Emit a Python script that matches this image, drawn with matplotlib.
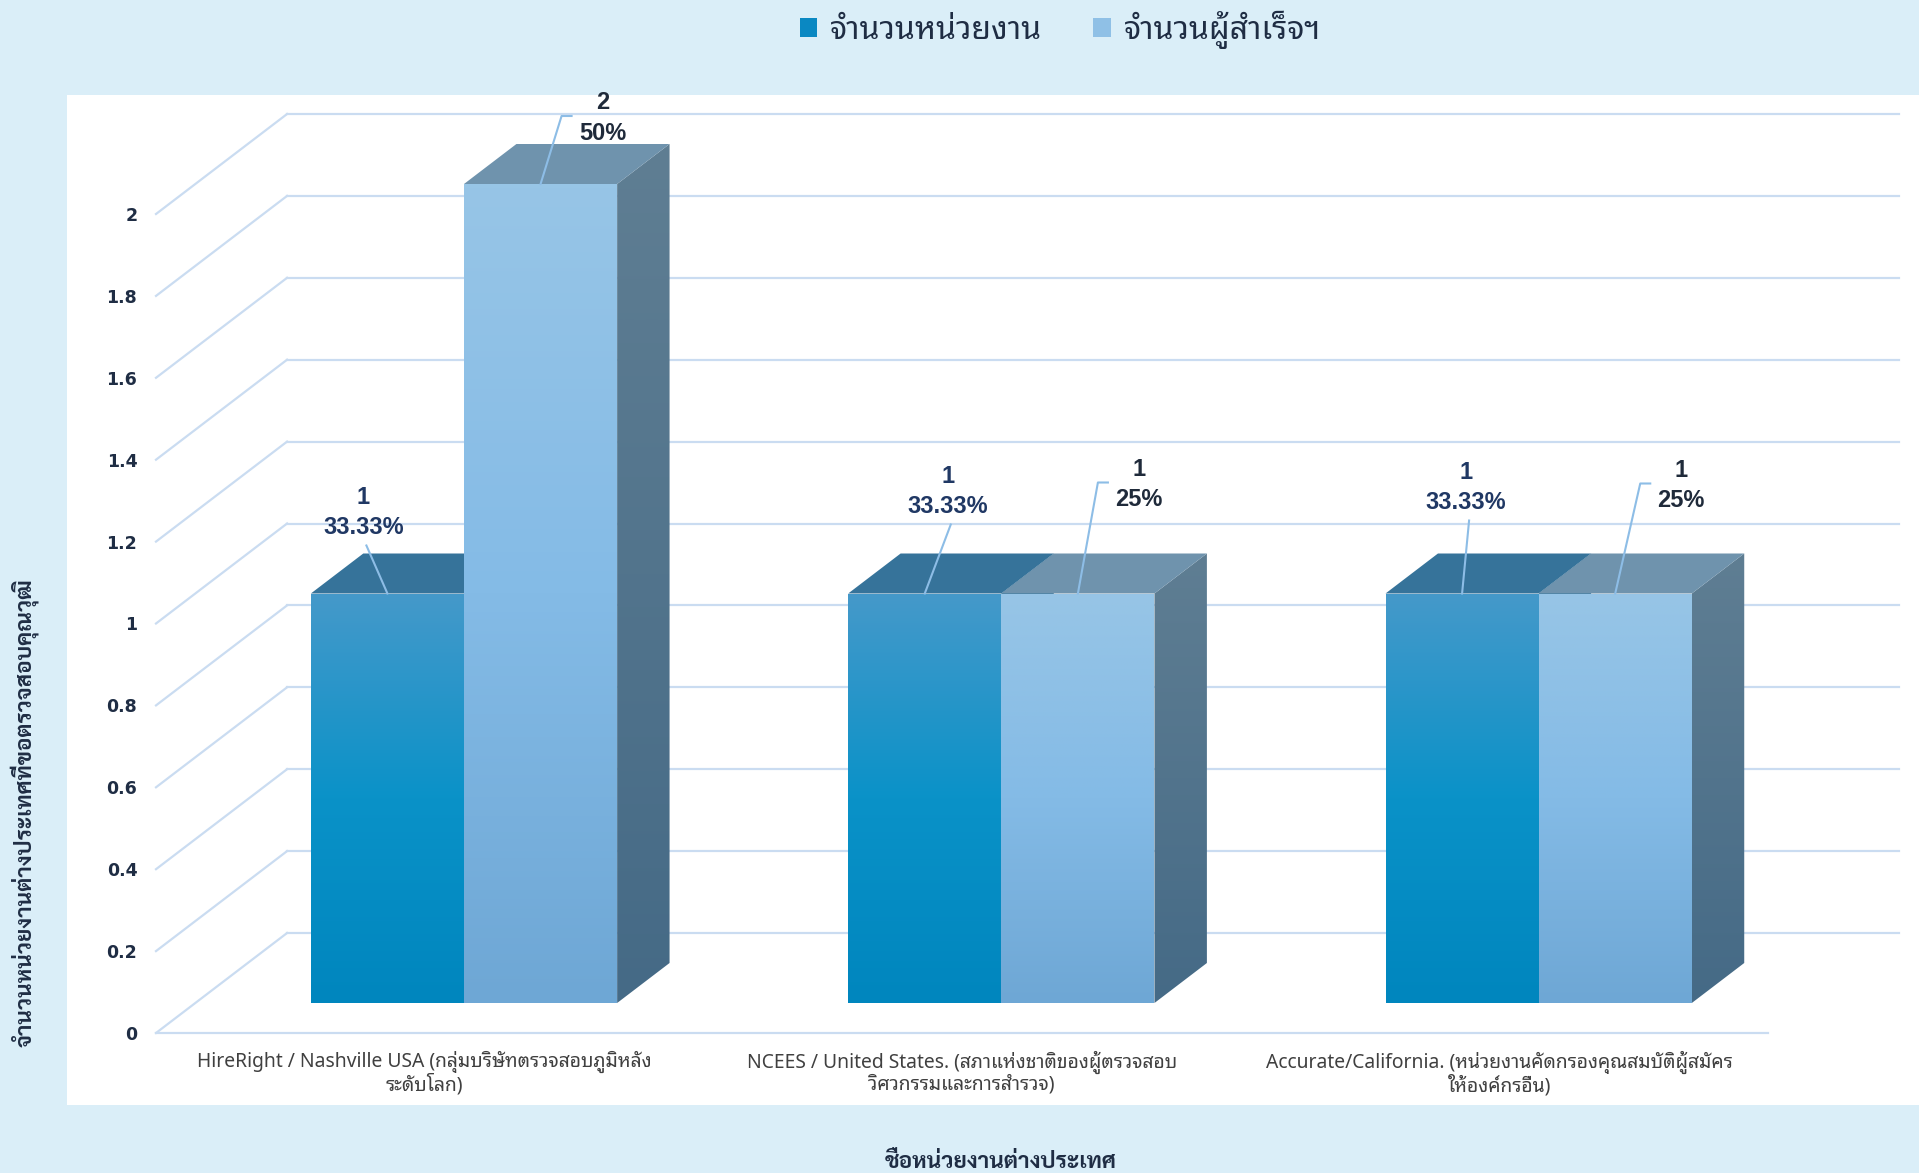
import numpy as np
import matplotlib
matplotlib.use('Agg')
import matplotlib.pyplot as plt
from matplotlib import font_manager as fm
from matplotlib.ft2font import FT2Font
from matplotlib.patches import Polygon, Patch, Rectangle
from matplotlib.colors import LinearSegmentedColormap

# data
categories = [
    'HireRight / Nashville USA (กลุ่มบริษัทตรวจสอบภูมิหลัง\nระดับโลก)',
    'NCEES / United States. (สภาแห่งชาติของผู้ตรวจสอบ\nวิศวกรรมและการสำรวจ)',
    'Accurate/California. (หน่วยงานคัดกรองคุณสมบัติผู้สมัคร\nให้องค์กรอื่น)',
]
series_names = ['จำนวนหน่วยงาน', 'จำนวนผู้สำเร็จฯ']
units = [1, 1, 1]
graduates = [2, 1, 1]
y_ticks = [0, 0.2, 0.4, 0.6, 0.8, 1, 1.2, 1.4, 1.6, 1.8, 2]
x_title = 'ชื่อหน่วยงานต่างประเทศ'
y_title = 'จำนวนหน่วยงานต่างประเทศที่ขอตรวจสอบคุณวุฒิ'

# pick fonts with thai glyphs
thai_fonts = set()
for f in fm.fontManager.ttflist:
    try:
        if 0x0E01 in FT2Font(f.fname).get_charmap():
            thai_fonts.add(f.name)
    except Exception:
        pass


def pick(names):
    ok = [n for n in names if n in thai_fonts]
    return (ok or sorted(thai_fonts) or ['DejaVu Sans'])[0]


thai = pick(['Noto Sans Thai Looped', 'Sarabun', 'Noto Sans Thai'])
thai_bold = pick(['Sarabun', 'Noto Sans Thai', 'Noto Sans Thai Looped'])
plt.rcParams['font.family'] = [thai, 'DejaVu Sans']

W, H = 1919, 1173
BG = '#daeef8'
GRID = '#cadcf1'
NAVY = '#1f2d44'

fig = plt.figure(figsize=(W / 100, H / 100), dpi=100, facecolor=BG)
fig.patches.append(Rectangle((67 / W, 1 - 1105 / H), (W - 67) / W, (1105 - 95) / H,
                             transform=fig.transFigure, facecolor='white',
                             edgecolor='none', zorder=-5))

# front plane of the box: x 0..3 categories, y 0..2
ax = fig.add_axes([156 / W, 1 - 1033 / H, 1612 / W, 819 / H])
ax.set_facecolor('none')
for s in ax.spines.values():
    s.set_visible(False)

PX = 1 / 537.0     # one pixel in x units
PY = 1 / 409.5     # one pixel in y units
DX, DY = 131 * PX, 100 * PY   # full depth offset
D0, D1 = 0.3, 0.7             # bar depth range
BW = 0.285                    # bar width

# walls
for v in y_ticks:
    ax.plot([0, DX], [v, v + DY], color=GRID, lw=1.6, clip_on=False, zorder=1)
    ax.plot([DX, 3 + DX], [v + DY, v + DY], color=GRID, lw=1.6, clip_on=False, zorder=1)
ax.plot([0, 3], [0, 0], color=GRID, lw=1.6, clip_on=False, zorder=1)


def face(verts, stops, z):
    poly = Polygon(verts, closed=True, facecolor='none', edgecolor='none')
    ax.add_patch(poly)
    xs = [p[0] for p in verts]
    ys = [p[1] for p in verts]
    cmap = LinearSegmentedColormap.from_list('g', stops)
    grad = np.linspace(0, 1, 256).reshape(-1, 1)
    im = ax.imshow(grad, extent=[min(xs), max(xs), min(ys), max(ys)], origin='lower',
                   cmap=cmap, aspect='auto', interpolation='bilinear', zorder=z)
    im.set_clip_path(poly)
    im.set_clip_box(fig.bbox)


front_cols = [['#0086be', '#0a92c8', '#4599ca'], ['#6ea7d5', '#84bbe6', '#97c5e6']]
top_cols = ['#36739a', '#6f93ad']
side_cols = [['#2a5f80', '#3a7aa0'], ['#456a86', '#5f7e93']]
label_cols = ['#203864', '#1f2a3a']

# label offsets (pixels from the bar's top front centre)
label_off = [[(-24, 81), (23, 102), (4, 106)],
             [(62, 66), (61, 109), (66, 108)]]

for si, vals in enumerate([units, graduates]):
    total = sum(vals)
    for ci, h in enumerate(vals):
        x0 = ci + 0.5 - BW + si * BW
        x1 = x0 + BW
        a0x, a0y = D0 * DX, D0 * DY
        a1x, a1y = D1 * DX, D1 * DY
        z = 3 + ci * 2 + si
        face([(x1 + a0x, a0y), (x1 + a1x, a1y), (x1 + a1x, h + a1y), (x1 + a0x, h + a0y)],
             side_cols[si], z)
        top = Polygon([(x0 + a0x, h + a0y), (x1 + a0x, h + a0y), (x1 + a1x, h + a1y),
                       (x0 + a1x, h + a1y)], closed=True, facecolor=top_cols[si],
                      edgecolor='none', clip_on=False, zorder=z)
        ax.add_patch(top)
        face([(x0 + a0x, a0y), (x1 + a0x, a0y), (x1 + a0x, h + a0y), (x0 + a0x, h + a0y)],
             front_cols[si], z)

        # data label
        pct = '{:.2f}'.format(h / total * 100).rstrip('0').rstrip('.') + '%'
        bx, by = (x0 + x1) / 2 + a0x, h + a0y
        ox, oy = label_off[si][ci]
        lx, ly = bx + ox * PX, by + oy * PY
        ax.text(lx, ly, '{}\n{}'.format(h, pct), ha='center', va='center',
                fontsize=17, fontweight='bold', color=label_cols[si],
                family=['Liberation Sans', 'DejaVu Sans'], linespacing=1.4, zorder=20)
        if si == 0:
            ax.plot([bx, lx + 3 * PX], [by, ly - 33 * PY], color='#8dbde6', lw=1.5,
                    clip_on=False, zorder=19)
        else:
            ax.plot([bx, lx - 41 * PX, lx - 31 * PX], [by, ly + 2 * PY, ly + 2 * PY],
                    color='#8dbde6', lw=1.5, clip_on=False, zorder=19)

ax.set_xlim(0, 3)
ax.set_ylim(0, 2)
ax.set_yticks(y_ticks)
ax.set_yticklabels(['{:g}'.format(v) for v in y_ticks], fontsize=12.5, fontweight='bold',
                   color=NAVY, family='DejaVu Sans')
ax.set_xticks([0.5, 1.5, 2.5])
ax.set_xticklabels(categories, fontsize=13.9, color='#404040', linespacing=1.05)
ax.tick_params(axis='y', length=0, pad=13.5)
ax.tick_params(axis='x', length=0, pad=13)

fig.text(24 / W, 1 - 813 / H, y_title, rotation=90, ha='center', va='center',
         fontsize=16.2, fontweight='bold', color=NAVY, family=[thai_bold, 'DejaVu Sans'])
fig.text(1001 / W, 1 - 1162 / H, x_title, ha='center', va='center',
         fontsize=16.3, fontweight='bold', color=NAVY, family=[thai_bold, 'DejaVu Sans'])

handles = [Patch(facecolor='#0a88c2', label=series_names[0]),
           Patch(facecolor='#8fc0e6', label=series_names[1])]
fig.legend(handles=handles, loc='center', bbox_to_anchor=(1060 / W, 1 - 29.5 / H), ncol=2,
           frameon=False, fontsize=23, handlelength=0.55, handleheight=0.55,
           handletextpad=0.4, columnspacing=1.6, labelcolor=NAVY)

fig.savefig('out.png', dpi=100, facecolor=BG)
